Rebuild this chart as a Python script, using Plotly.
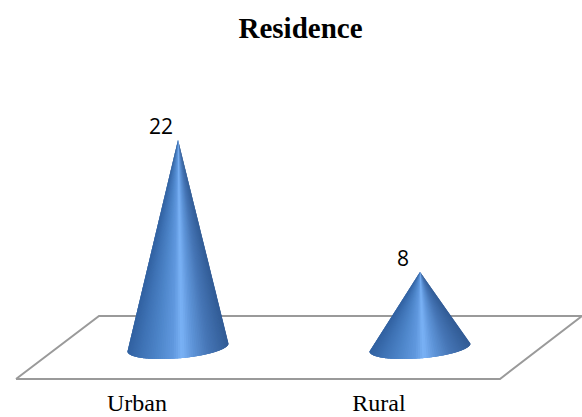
import numpy as np
import plotly.graph_objects as go

categories = ["Urban", "Rural"]
values = [22, 8]

WIDTH, HEIGHT = 582, 417
BOTTOM = 31
PLOT_H = HEIGHT - BOTTOM

# Axis scale: pixels per category step and per unit of value, and the baseline position.
X_STEP = 242.0
Y_UNIT = 9.43
X_ORIGIN = 178.0
Y_ORIGIN = 347.4

x_range = [-X_ORIGIN / X_STEP, (WIDTH - X_ORIGIN) / X_STEP]
y_range = [(Y_ORIGIN - PLOT_H) / Y_UNIT, Y_ORIGIN / Y_UNIT]

# Cone base: a slightly tilted ellipse, in axis units.
BASE_RX = 50.5 / X_STEP
BASE_TILT = 4.0 / Y_UNIT
BASE_RY = 11.0 / Y_UNIT

# Horizontal shading across the cone, from left silhouette to right.
shade_pos = [-1.0, -0.75, -0.4, -0.1, 0.08, 0.3, 0.6, 1.0]
shade_rgb = [
    (50, 98, 162), (62, 114, 180), (78, 134, 202), (96, 152, 222),
    (122, 178, 246), (94, 148, 216), (70, 118, 182), (50, 92, 150),
]


def shade(u):
    rgb = [np.interp(u, shade_pos, [c[k] for c in shade_rgb]) for k in range(3)]
    return "rgb({:.0f},{:.0f},{:.0f})".format(*rgb)


fig = go.Figure()

# Floor of the 3D chart, as a parallelogram under the cones.
floor_x = np.array([16, 99, 582, 500, 16])
floor_y = np.array([379, 316, 316, 379, 379])
fig.add_trace(go.Scatter(
    x=(floor_x - X_ORIGIN) / X_STEP,
    y=(Y_ORIGIN - floor_y) / Y_UNIT,
    mode="lines",
    line=dict(color="#9a9a9a", width=2),
    fill="toself",
    fillcolor="white",
    hoverinfo="skip",
    showlegend=False,
    cliponaxis=False,
))

# Each cone is a fan of narrow slices from the tip to the front of its base.
# Slices overlap the next one so no seams show between fills.
N_SLICES = 72
angles = np.linspace(0, np.pi, N_SLICES + 1)
for i, (name, v) in enumerate(zip(categories, values)):
    for k in range(N_SLICES):
        ts = np.linspace(angles[k], angles[min(k + 3, N_SLICES)], 6)
        xs = i + BASE_RX * np.cos(ts)
        ys = BASE_TILT * np.cos(ts) - BASE_RY * np.sin(ts)
        color = shade(np.cos((angles[k] + angles[k + 1]) / 2))
        fig.add_trace(go.Scatter(
            x=np.concatenate([[i], xs, [i]]),
            y=np.concatenate([[v], ys, [v]]),
            mode="none",
            fill="toself",
            fillcolor=color,
            hoverinfo="skip",
            showlegend=False,
        ))
    fig.add_annotation(
        x=i, y=v, text=str(v), showarrow=False,
        xanchor="center", yanchor="bottom", xshift=-17, yshift=-2,
        font=dict(family="Open Sans", size=21, color="black"),
    )

fig.update_layout(
    width=WIDTH,
    height=HEIGHT,
    margin=dict(l=0, r=0, t=0, b=BOTTOM),
    paper_bgcolor="white",
    plot_bgcolor="white",
    title=dict(
        text="<b>Residence</b>",
        x=300.5 / WIDTH, xanchor="center",
        y=1 - 28 / HEIGHT, yanchor="middle",
        font=dict(family="Liberation Serif", size=29, color="black"),
    ),
    xaxis=dict(
        range=x_range,
        tickmode="array",
        tickvals=[i - 41 / X_STEP for i in range(len(categories))],
        ticktext=categories,
        ticks="",
        ticklen=0,
        showgrid=False,
        zeroline=False,
        showline=False,
        automargin=False,
        tickfont=dict(family="Liberation Serif", size=24, color="black"),
    ),
    yaxis=dict(range=y_range, visible=False, automargin=False),
)

fig.write_html("out.html", config=dict(displayModeBar=False))
